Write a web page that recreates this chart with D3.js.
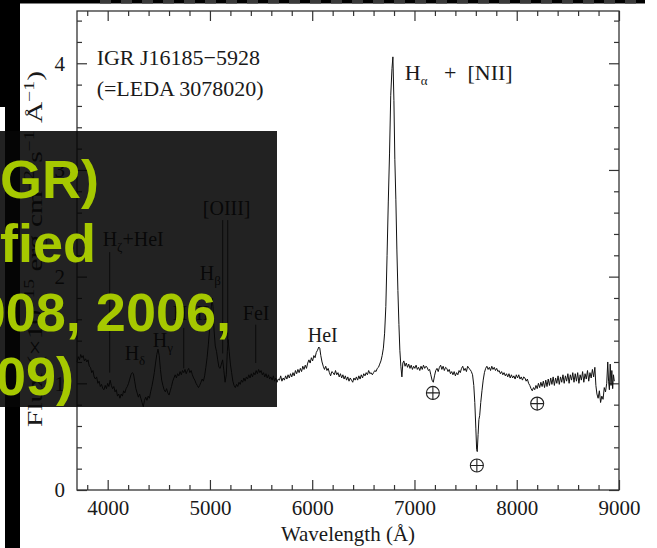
<!DOCTYPE html>
<html>
<head>
<meta charset="utf-8">
<script src="https://cdn.jsdelivr.net/npm/d3@7"></script>
<style>
  html, body { margin: 0; padding: 0; background: #fff; }
  svg { display: block; }
</style>
</head>
<body>
<div id="chart"></div>
<script>
// data (wavelength in Å, flux in 1e-15 erg/cm2/s/Å)

const wavelength = [
  3700, 3712, 3724, 3736, 3748, 3760, 3772, 3784, 3796, 3808,
  3820, 3832, 3844, 3856, 3868, 3880, 3892, 3904, 3916, 3928,
  3940, 3952, 3964, 3976, 3988, 4000, 4012, 4024, 4036, 4048,
  4060, 4072, 4084, 4096, 4108, 4120, 4132, 4144, 4156, 4168,
  4180, 4192, 4204, 4216, 4228, 4240, 4252, 4264, 4276, 4288,
  4300, 4312, 4324, 4336, 4348, 4360, 4372, 4384, 4396, 4408,
  4420, 4432, 4444, 4456, 4468, 4480, 4492, 4504, 4516, 4528,
  4540, 4552, 4564, 4576, 4588, 4600, 4612, 4624, 4636, 4648,
  4660, 4672, 4684, 4696, 4708, 4720, 4732, 4744, 4756, 4768,
  4780, 4792, 4804, 4816, 4828, 4840, 4852, 4864, 4876, 4888,
  4900, 4912, 4924, 4936, 4948, 4960, 4972, 4984, 4996, 5008,
  5020, 5030, 5040, 5052, 5064, 5076, 5088, 5100, 5112, 5124,
  5136, 5148, 5160, 5170, 5178, 5188, 5200, 5212, 5224, 5236,
  5248, 5260, 5272, 5284, 5296, 5308, 5320, 5332, 5344, 5356,
  5368, 5380, 5392, 5404, 5416, 5428, 5440, 5452, 5464, 5476,
  5488, 5500, 5512, 5524, 5536, 5548, 5560, 5572, 5584, 5596,
  5608, 5620, 5632, 5644, 5656, 5668, 5680, 5692, 5704, 5716,
  5728, 5740, 5752, 5764, 5776, 5788, 5800, 5812, 5824, 5836,
  5848, 5860, 5872, 5884, 5896, 5908, 5920, 5932, 5944, 5956,
  5968, 5980, 5992, 6004, 6016, 6028, 6040, 6052, 6064, 6074,
  6084, 6096, 6108, 6120, 6132, 6144, 6156, 6168, 6180, 6192,
  6204, 6216, 6228, 6240, 6252, 6264, 6276, 6288, 6300, 6312,
  6324, 6336, 6348, 6360, 6372, 6384, 6396, 6408, 6420, 6432,
  6444, 6456, 6468, 6480, 6492, 6504, 6516, 6528, 6540, 6552,
  6564, 6576, 6588, 6600, 6612, 6624, 6636, 6648, 6660, 6672,
  6684, 6696, 6708, 6720, 6732, 6744, 6756, 6768, 6780, 6789,
  6799, 6808, 6818, 6828, 6838, 6848, 6857, 6867, 6877, 6886,
  6896, 6908, 6920, 6932, 6944, 6956, 6968, 6980, 6992, 7004,
  7016, 7028, 7040, 7052, 7064, 7076, 7088, 7100, 7112, 7124,
  7136, 7148, 7160, 7172, 7184, 7196, 7208, 7220, 7232, 7244,
  7256, 7268, 7280, 7292, 7304, 7316, 7328, 7340, 7352, 7364,
  7376, 7388, 7400, 7412, 7424, 7436, 7448, 7460, 7472, 7484,
  7496, 7508, 7520, 7532, 7544, 7556, 7568, 7580, 7590, 7600,
  7608, 7614, 7622, 7630, 7638, 7648, 7660, 7672, 7684, 7696,
  7708, 7720, 7732, 7744, 7756, 7768, 7780, 7792, 7804, 7816,
  7828, 7840, 7852, 7864, 7876, 7888, 7900, 7912, 7924, 7936,
  7948, 7960, 7972, 7984, 7996, 8008, 8020, 8032, 8044, 8056,
  8068, 8080, 8092, 8104, 8116, 8128, 8140, 8152, 8164, 8176,
  8188, 8200, 8212, 8224, 8236, 8248, 8260, 8272, 8284, 8296,
  8308, 8320, 8332, 8344, 8356, 8368, 8380, 8392, 8404, 8416,
  8428, 8440, 8452, 8464, 8476, 8488, 8500, 8512, 8524, 8536,
  8548, 8560, 8572, 8584, 8596, 8608, 8620, 8632, 8644, 8656,
  8668, 8680, 8692, 8704, 8716, 8728, 8740, 8752, 8764, 8774,
  8784, 8796, 8808, 8820, 8832, 8844, 8856, 8868, 8880, 8890,
  8898, 8906, 8914, 8922, 8930, 8938, 8946, 8954
];

const flux = [
  1.20, 1.25, 1.22, 1.27, 1.24, 1.26, 1.21, 1.23, 1.20, 1.22,
  1.16, 1.15, 1.10, 1.12, 1.06, 1.04, 1.06, 1.00, 1.02, 0.97,
  0.99, 0.95, 0.94, 0.98, 0.95, 1.00, 0.97, 1.03, 0.98, 0.95,
  0.97, 0.92, 0.94, 0.88, 0.90, 0.86, 0.90, 0.88, 0.93, 0.91,
  0.95, 0.97, 1.00, 1.04, 1.08, 1.10, 1.09, 1.02, 0.95, 0.91,
  0.87, 0.90, 0.86, 0.82, 0.78, 0.84, 0.87, 0.84, 0.88, 0.86,
  0.92, 0.97, 1.03, 1.10, 1.19, 1.27, 1.32, 1.26, 1.13, 1.03,
  0.98, 0.94, 0.92, 0.95, 0.91, 0.89, 0.93, 0.97, 1.02, 1.05,
  1.08, 1.05, 1.09, 1.07, 1.11, 1.08, 1.12, 1.10, 1.13, 1.09,
  1.12, 1.14, 1.10, 1.12, 1.08, 1.05, 1.03, 1.00, 0.98, 0.96,
  0.98, 1.01, 1.04, 1.02, 1.07, 1.15, 1.24, 1.36, 1.50, 1.66,
  1.80, 1.72, 1.50, 1.35, 1.30, 1.22, 1.15, 1.14, 1.18, 1.22,
  1.12, 1.01, 1.08, 1.30, 1.41, 1.30, 1.18, 1.10, 1.02, 0.98,
  0.96, 0.99, 0.97, 1.01, 0.99, 1.03, 1.01, 1.05, 1.02, 1.06,
  1.04, 1.08, 1.05, 1.09, 1.06, 1.10, 1.08, 1.12, 1.09, 1.13,
  1.10, 1.12, 1.08, 1.10, 1.06, 1.09, 1.05, 1.08, 1.04, 1.06,
  1.03, 1.07, 1.02, 1.05, 1.01, 1.04, 1.03, 1.07, 1.02, 1.05,
  1.03, 1.07, 1.04, 1.08, 1.05, 1.09, 1.06, 1.10, 1.07, 1.12,
  1.09, 1.13, 1.10, 1.14, 1.11, 1.16, 1.13, 1.17, 1.14, 1.19,
  1.22, 1.19, 1.24, 1.21, 1.26, 1.24, 1.29, 1.31, 1.34, 1.33,
  1.26, 1.20, 1.16, 1.13, 1.16, 1.12, 1.14, 1.10, 1.07, 1.11,
  1.10, 1.08, 1.12, 1.08, 1.10, 1.06, 1.09, 1.05, 1.08, 1.04,
  1.07, 1.03, 1.06, 1.02, 1.05, 1.03, 1.01, 1.05, 1.03, 1.06,
  1.03, 1.07, 1.04, 1.08, 1.05, 1.09, 1.07, 1.10, 1.08, 1.12,
  1.09, 1.10, 1.08, 1.10, 1.12, 1.11, 1.14, 1.15, 1.18, 1.21,
  1.26, 1.33, 1.47, 1.72, 2.20, 2.70, 3.15, 3.70, 3.95, 4.06,
  3.65, 3.10, 2.72, 2.25, 1.87, 1.55, 1.31, 1.16, 1.06, 1.19,
  1.21, 1.16, 1.19, 1.15, 1.18, 1.14, 1.17, 1.13, 1.16, 1.14,
  1.17, 1.13, 1.15, 1.12, 1.16, 1.13, 1.17, 1.14, 1.16, 1.15,
  1.12, 1.13, 1.08, 1.03, 1.01, 1.07, 1.12, 1.14, 1.11, 1.15,
  1.17, 1.13, 1.16, 1.12, 1.15, 1.14, 1.11, 1.13, 1.09, 1.11,
  1.08, 1.11, 1.07, 1.10, 1.08, 1.12, 1.10, 1.14, 1.16, 1.12,
  1.14, 1.11, 1.16, 1.14, 1.13, 1.11, 1.08, 0.98, 0.82, 0.58,
  0.38, 0.36, 0.52, 0.66, 0.70, 0.82, 0.93, 1.03, 1.10, 1.14,
  1.16, 1.13, 1.15, 1.12, 1.16, 1.13, 1.15, 1.12, 1.14, 1.11,
  1.12, 1.09, 1.11, 1.08, 1.10, 1.07, 1.09, 1.06, 1.09, 1.05,
  1.08, 1.05, 1.07, 1.04, 1.08, 1.05, 1.08, 1.04, 1.06, 1.03,
  1.06, 1.05, 1.02, 1.04, 1.00, 0.98, 0.95, 0.93, 0.96, 0.94,
  0.98, 0.95, 1.00, 0.96, 1.01, 0.97, 1.02, 0.96, 1.03, 0.97,
  1.04, 0.98, 1.05, 0.99, 1.06, 0.98, 1.05, 1.00, 1.07, 0.99,
  1.06, 1.01, 1.08, 1.00, 1.07, 1.02, 1.09, 1.00, 1.08, 1.03,
  1.10, 1.01, 1.09, 1.02, 1.10, 1.00, 1.08, 1.03, 1.11, 1.01,
  1.09, 1.04, 1.12, 1.02, 1.10, 1.05, 1.13, 1.06, 1.15, 0.98,
  0.90, 0.86, 0.93, 0.82, 0.88, 0.85, 0.96, 0.92, 1.00, 1.20,
  1.02, 0.94, 1.18, 0.98, 1.12, 0.95, 1.08, 1.02
];

// axis ticks
const xMajorTicks = [4000, 5000, 6000, 7000, 8000, 9000];
const xMinorTicks = [3800, 4200, 4400, 4600, 4800, 5200, 5400, 5600, 5800, 6200, 6400, 6600, 6800,
  7200, 7400, 7600, 7800, 8200, 8400, 8600, 8800];
const yMajorTicks = [0, 1, 2, 3, 4];
const yMinorTicks = [0.2, 0.4, 0.6, 0.8, 1.2, 1.4, 1.6, 1.8, 2.2, 2.4, 2.6, 2.8, 3.2, 3.4, 3.6, 3.8, 4.2, 4.4];

// line identifications (label anchor in data units)
const lineLabels = [
  { main: "H", sub: "ζ", rest: "+HeI", wl: 3951, f: 2.29 },
  { main: "[OIII]", wl: 4930, f: 2.58 },
  { main: "H", sub: "β", wl: 4900, f: 1.97 },
  { main: "H", sub: "γ", wl: 4440, f: 1.34 },
  { main: "H", sub: "δ", wl: 4166, f: 1.22 },
  { main: "HeII", wl: 4636, f: 1.59 },
  { main: "FeI", wl: 5321, f: 1.59 },
  { main: "HeI", wl: 5957, f: 1.39 },
  { main: "H", sub: "α", rest: "   +  [NII]", wl: 6906, f: 3.84, big: true }
];

const lineMarkers = [
  { wl: 4020, top: 2.23, bottom: 1.10 },
  { wl: 4744, top: 1.52, bottom: 1.14 },
  { wl: 5125, top: 2.53, bottom: 1.28 },
  { wl: 5174, top: 2.53, bottom: 1.38 },
  { wl: 5448, top: 1.55, bottom: 1.19 }
];

// telluric absorption symbols
const telluricWl = [7180, 7610, 8200];
const telluricFlux = [0.91, 0.23, 0.81];

const sourceName = ["IGR J16185\u22125928", "(=LEDA 3078020)"];
const sourceWl = 3892;
const sourceFlux = [3.98, 3.69];

// slide overlay text (cut off at the left edge)
const slideLines = ["GR)", "fied", "2008, 2006,", "09)"];

// config

const width = 657;
const height = 548;
const plot = { left: 77, right: 619, top: 11, bottom: 490 };
const serif = "'Liberation Serif', 'Times New Roman', serif";
const ink = "#1a1a1a";

const xScale = d3.scaleLinear()
  .domain([3700, 9000])
  .range([plot.left, plot.right]);

const yScale = d3.scaleLinear()
  .domain([0, 4.49])
  .range([plot.bottom, plot.top]);

const svg = d3.select("#chart")
  .append("svg")
  .attr("width", width)
  .attr("height", height)
  .attr("viewBox", [0, 0, width, height]);

svg.append("rect")
  .attr("width", width)
  .attr("height", height)
  .attr("fill", "#fff");

// axes (ticks pointing inwards on all four sides)

function styleAxis(g) {
  g.select(".domain").remove();
  g.selectAll(".tick line").attr("stroke", "#333").attr("stroke-width", 1.2);
  g.selectAll(".tick text")
    .attr("fill", ink)
    .attr("font-family", serif)
    .attr("font-size", 21);
}

svg.append("g")
  .attr("transform", `translate(0,${plot.bottom})`)
  .call(d3.axisBottom(xScale).tickValues(xMajorTicks).tickSizeInner(-10).tickSizeOuter(0)
    .tickPadding(10).tickFormat(d3.format("d")))
  .call(styleAxis);

svg.append("g")
  .attr("transform", `translate(0,${plot.bottom})`)
  .call(d3.axisBottom(xScale).tickValues(xMinorTicks).tickSizeInner(-5).tickSizeOuter(0).tickFormat(""))
  .call(styleAxis);

svg.append("g")
  .attr("transform", `translate(0,${plot.top})`)
  .call(d3.axisTop(xScale).tickValues(xMajorTicks).tickSizeInner(-10).tickSizeOuter(0).tickFormat(""))
  .call(styleAxis);

svg.append("g")
  .attr("transform", `translate(0,${plot.top})`)
  .call(d3.axisTop(xScale).tickValues(xMinorTicks).tickSizeInner(-5).tickSizeOuter(0).tickFormat(""))
  .call(styleAxis);

svg.append("g")
  .attr("transform", `translate(${plot.left},0)`)
  .call(d3.axisLeft(yScale).tickValues(yMajorTicks).tickSizeInner(-10).tickSizeOuter(0)
    .tickPadding(12).tickFormat(d3.format("d")))
  .call(styleAxis);

svg.append("g")
  .attr("transform", `translate(${plot.left},0)`)
  .call(d3.axisLeft(yScale).tickValues(yMinorTicks).tickSizeInner(-5).tickSizeOuter(0).tickFormat(""))
  .call(styleAxis);

svg.append("g")
  .attr("transform", `translate(${plot.right},0)`)
  .call(d3.axisRight(yScale).tickValues(yMajorTicks).tickSizeInner(-10).tickSizeOuter(0).tickFormat(""))
  .call(styleAxis);

svg.append("g")
  .attr("transform", `translate(${plot.right},0)`)
  .call(d3.axisRight(yScale).tickValues(yMinorTicks).tickSizeInner(-5).tickSizeOuter(0).tickFormat(""))
  .call(styleAxis);

// frame

svg.append("rect")
  .attr("x", plot.left)
  .attr("y", plot.top)
  .attr("width", plot.right - plot.left)
  .attr("height", plot.bottom - plot.top)
  .attr("fill", "none")
  .attr("stroke", "#333")
  .attr("stroke-width", 1.3);

// axis titles

svg.append("text")
  .attr("x", 348)
  .attr("y", 541)
  .attr("text-anchor", "middle")
  .attr("font-family", serif)
  .attr("font-size", 21)
  .attr("fill", ink)
  .text("Wavelength (Å)");

const yTitle = svg.append("text")
  .attr("transform", "translate(42,249) rotate(-90)")
  .attr("text-anchor", "middle")
  .attr("font-family", serif)
  .attr("font-size", 21)
  .attr("fill", ink)
  .attr("textLength", 356)
  .attr("lengthAdjust", "spacingAndGlyphs");

[["Flux (×10", 0], ["\u221215", -8], [" erg cm", 8], ["\u22122", -8], [" s", 8], ["\u22121", -8], [" Å", 8], ["\u22121", -8], [")", 8]]
  .forEach(([t, dy]) => {
    yTitle.append("tspan")
      .attr("dy", dy)
      .attr("font-size", dy < 0 ? 14 : 21)
      .text(t);
  });

// spectrum

const spectrum = d3.zip(wavelength, flux);

const line = d3.line()
  .x(d => xScale(d[0]))
  .y(d => yScale(d[1]));

svg.append("path")
  .attr("d", line(spectrum))
  .attr("fill", "none")
  .attr("stroke", "#111")
  .attr("stroke-width", 1)
  .attr("stroke-linejoin", "round");

// line markers and labels

svg.selectAll("line.marker")
  .data(lineMarkers)
  .join("line")
  .attr("class", "marker")
  .attr("x1", d => xScale(d.wl))
  .attr("x2", d => xScale(d.wl))
  .attr("y1", d => yScale(d.top))
  .attr("y2", d => yScale(d.bottom))
  .attr("stroke", "#222")
  .attr("stroke-width", 1);

const labels = svg.selectAll("text.linelabel")
  .data(lineLabels)
  .join("text")
  .attr("class", "linelabel")
  .attr("x", d => xScale(d.wl))
  .attr("y", d => yScale(d.f))
  .attr("font-family", serif)
  .attr("font-size", d => d.big ? 22 : 20)
  .attr("fill", ink)
  .style("white-space", "pre");

labels.append("tspan").text(d => d.main);
labels.filter(d => d.sub)
  .append("tspan")
  .attr("font-size", 13)
  .attr("dy", 5)
  .text(d => d.sub);
labels.filter(d => d.rest)
  .append("tspan")
  .attr("dy", -5)
  .text(d => d.rest);

// source name

svg.selectAll("text.source")
  .data(sourceName)
  .join("text")
  .attr("class", "source")
  .attr("x", xScale(sourceWl))
  .attr("y", (d, i) => yScale(sourceFlux[i]))
  .attr("font-family", serif)
  .attr("font-size", 22)
  .attr("fill", ink)
  .text(d => d);

// telluric symbols (circled plus)

const tell = svg.selectAll("g.telluric")
  .data(d3.zip(telluricWl, telluricFlux))
  .join("g")
  .attr("class", "telluric")
  .attr("transform", d => `translate(${xScale(d[0])},${yScale(d[1])})`);

tell.append("circle")
  .attr("r", 6.5)
  .attr("fill", "none")
  .attr("stroke", "#222")
  .attr("stroke-width", 1.1);

tell.append("path")
  .attr("d", "M-6.5,0H6.5M0,-6.5V6.5")
  .attr("stroke", "#222")
  .attr("stroke-width", 1.1);

// slide background pieces around the picture

svg.append("rect").attr("x", 0).attr("y", 0).attr("width", 645).attr("height", 3.5).attr("fill", "#000");
svg.append("line")
  .attr("x1", 100).attr("x2", 645).attr("y1", 1.7).attr("y2", 1.7)
  .attr("stroke", "#3a3a3a").attr("stroke-width", 3.4)
  .attr("stroke-dasharray", "11 10");
svg.append("rect").attr("x", 0).attr("y", 0).attr("width", 20).attr("height", 107).attr("fill", "#000");
svg.append("rect").attr("x", 5).attr("y", 0).attr("width", 15).attr("height", height).attr("fill", "#000");

// translucent dark text box

svg.append("rect")
  .attr("x", 0)
  .attr("y", 131)
  .attr("width", 277)
  .attr("height", 276)
  .attr("fill", "#060606")
  .attr("fill-opacity", 0.886);

const slideRight = [99, 96, 231, 74];
const slideBase = [198, 262, 331, 395];

svg.selectAll("text.slide")
  .data(slideLines)
  .join("text")
  .attr("class", "slide")
  .attr("x", (d, i) => slideRight[i])
  .attr("y", (d, i) => slideBase[i])
  .attr("text-anchor", "end")
  .attr("font-family", "'Liberation Sans', Arial, sans-serif")
  .attr("font-weight", "bold")
  .attr("font-size", 54)
  .attr("fill", "#a6c800")
  .text(d => d);
</script>
</body>
</html>
